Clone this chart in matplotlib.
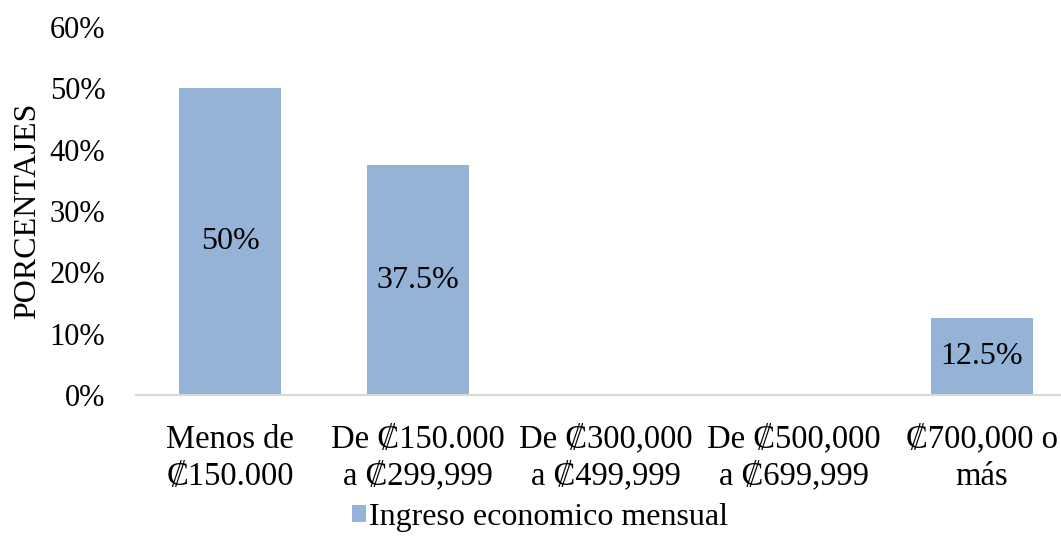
import matplotlib
matplotlib.use('Agg')
import matplotlib.pyplot as plt
from matplotlib.ticker import FuncFormatter

# datos
categorias = ['Menos de\n₡150.000', 'De ₡150.000\na ₡299,999', 'De ₡300,000\na ₡499,999',
              'De ₡500,000\na ₡699,999', '₡700,000 o\nmás']
valores = [50, 37.5, 0, 0, 12.5]
etiquetas = ['50%', '37.5%', '', '', '12.5%']
serie = 'Ingreso economico mensual'

plt.rcParams['font.family'] = ['Liberation Serif', 'DejaVu Serif']
plt.rcParams['font.size'] = 23

fig = plt.figure(figsize=(10.61, 5.44), dpi=100)
ax = fig.add_axes([136 / 1061, 1 - 395 / 544, 1 - 136 / 1061, (395 - 27) / 544])

x = range(len(categorias))
bars = ax.bar(x, valores, width=0.54, color='#95B3D7', label=serie, zorder=2)

for b, t in zip(bars, etiquetas):
    if t:
        ax.text(b.get_x() + b.get_width() / 2, b.get_height() / 2, t,
                ha='center', va='center', fontsize=23, color='black')

ax.set_ylim(0, 60)
ax.set_xlim(-0.5, 4.42)
ax.set_yticks(range(0, 61, 10))
ax.yaxis.set_major_formatter(FuncFormatter(lambda v, p: f'{int(v)}%'))
ax.set_xticks(list(x))
ax.set_xticklabels(categorias, linespacing=1.28)
ax.tick_params(axis='x', length=0, labelsize=23.5, pad=21)
ax.tick_params(axis='y', length=0, labelsize=22, pad=22)

for s in ['top', 'right', 'left']:
    ax.spines[s].set_visible(False)
ax.spines['bottom'].set_color('#D9D9D9')
ax.spines['bottom'].set_linewidth(1.5)

ax.set_ylabel('PORCENTAJES', fontsize=23)
ax.yaxis.set_label_coords(-0.102, 0.5)

fig.legend(loc='center', bbox_to_anchor=(540 / 1061, 1 - 517 / 544), frameon=False,
           fontsize=23, handlelength=0.45, handleheight=0.45, handletextpad=0.1)

plt.savefig('out.png', dpi=100)
